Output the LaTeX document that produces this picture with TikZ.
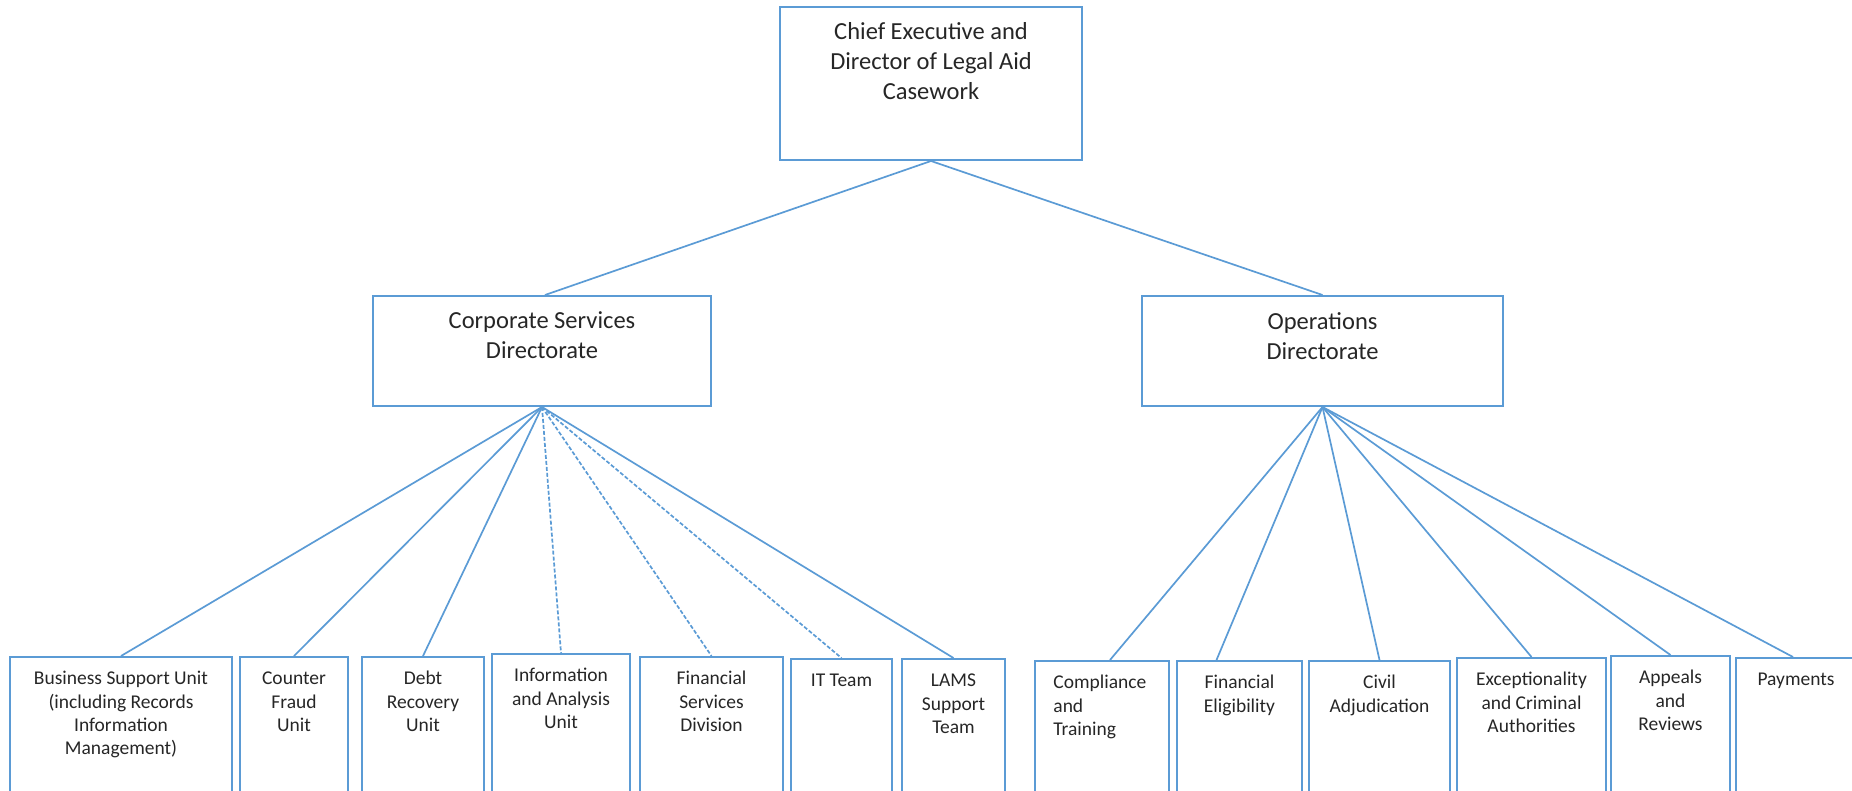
\documentclass[tikz,border=0pt]{standalone}
\usepackage{fontspec}
\setmainfont{Carlito}
\usetikzlibrary{positioning}
\definecolor{orgblue}{RGB}{91,155,213}
\definecolor{orgtext}{RGB}{38,38,38}
\newcommand{\unitfont}{\fontsize{9.75}{11.7}\selectfont}
\newcommand{\headfont}{\fontsize{12.25}{15}\selectfont}

\begin{document}
\begin{tikzpicture}[x=0.5pt, y=-0.5pt,
  box/.style={draw=orgblue, line width=1pt, inner sep=0pt},
  link/.style={draw=orgblue, line width=0.85pt},
  dashlink/.style={link, dash pattern=on 2pt off 1pt},
  head/.style={inner sep=0pt, align=center, text=orgtext, font=\headfont},
  unit/.style={inner sep=0pt, align=center, text=orgtext, font=\unitfont}]
  \useasboundingbox (0,0) rectangle (1852,791);

  \node[box, minimum width=151pt, minimum height=76.5pt] (ceo) at (931,83.5) {};
  \node[box, minimum width=169pt, minimum height=55pt] (corp) at (542,351) {};
  \node[box, minimum width=180.5pt, minimum height=55pt] (ops) at (1322.5,351) {};
  \foreach \nm/\xa/\xb/\ya in {bsu/10/232/657, cfu/240/348/657, dru/362/484/657,
      iau/492/630/654, fsd/640/783/657, itt/791/892/659, lams/902/1005/659,
      cat/1035/1169/661, fel/1177/1302/661, cad/1309/1450/661,
      eca/1457/1606/658, aar/1611/1730/656, pay/1736/1856/658}
    \node[box, minimum width={(\xb-\xa)*0.5pt}, minimum height={(800-\ya)*0.5pt}]
      (\nm) at ({(\xa+\xb)/2},{(\ya+800)/2}) {};

  \node[head, below=6pt of ceo.north] (ceotxt) {\strut Chief Executive and\\Director of Legal Aid\\Casework};
  \node[head, below=6pt of corp.north] (corptxt) {\strut Corporate Services\\Directorate};
  \node[head, below=6.5pt of ops.north] (opstxt) {\strut Operations\\Directorate};

  \node[unit, below=6pt of bsu.north] (bsutxt) {\strut Business Support Unit\\(including Records\\Information\\Management)};
  \node[unit, below=6pt of cfu.north] (cfutxt) {\strut Counter\\Fraud\\Unit};
  \node[unit, below=6pt of dru.north] (drutxt) {\strut Debt\\Recovery\\Unit};
  \node[unit, below=6pt of iau.north] (iautxt) {\strut Information\\and Analysis\\Unit};
  \node[unit, below=6pt of fsd.north] (fsdtxt) {\strut Financial\\Services\\Division};
  \node[unit, below=6pt of itt.north] (itttxt) {\strut IT Team};
  \node[unit, below=6pt of lams.north] (lamstxt) {\strut LAMS\\Support\\Team};
  \node[unit, align=left, below right=6pt and 9.5pt of cat.north west] (cattxt) {\strut Compliance\\and\\Training};
  \node[unit, below=6pt of fel.north] (feltxt) {\strut Financial\\Eligibility};
  \node[unit, below=6pt of cad.north] (cadtxt) {\strut Civil\\Adjudication};
  \node[unit, below=6pt of eca.north] (ecatxt) {\strut Exceptionality\\and Criminal\\Authorities};
  \node[unit, below=6pt of aar.north] (aartxt) {\strut Appeals\\and\\Reviews};
  \node[unit, below=6pt of pay.north] (paytxt) {\strut Payments};

  \draw[link] (ceo.south) -- ([xshift=1.5pt]corp.north);
  \draw[link] (ceo.south) -- (ops.north);
  \foreach \nm in {bsu, cfu, dru, lams} { \draw[link] (corp.south) -- (\nm.north); }
  \foreach \nm in {iau, fsd, itt} { \draw[dashlink] (corp.south) -- (\nm.north); }
  \draw[link] (ops.south) -- ([xshift=4pt]cat.north);
  \draw[link] (ops.south) -- ([xshift=-11.5pt]fel.north);
  \foreach \nm in {cad, eca, aar} { \draw[link] (ops.south) -- (\nm.north); }
  \draw[link] (ops.south) -- ([xshift=-1.5pt]pay.north);
\end{tikzpicture}
\end{document}
